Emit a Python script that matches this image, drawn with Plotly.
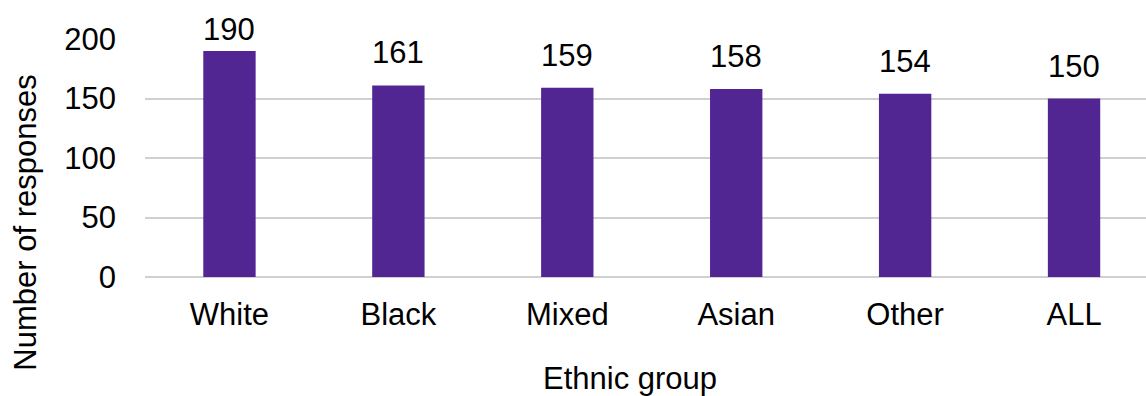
import plotly.graph_objects as go

# Responses per ethnic group
groups = ["White", "Black", "Mixed", "Asian", "Other", "ALL"]
responses = [190, 161, 159, 158, 154, 150]
y_ticks = [0, 50, 100, 150, 200]

BAR_COLOR = "#512693"
FONT = "Liberation Sans, Arial, sans-serif"
FS = 31

fig = go.Figure(
    go.Bar(
        x=groups,
        y=responses,
        marker=dict(color=BAR_COLOR, line=dict(width=0)),
        width=0.31,
        hoverinfo="x+y",
    )
)

# value labels above the bars; the tallest one sits closer to its bar
annotations = []
for g, v in zip(groups, responses):
    annotations.append(
        dict(
            x=g, y=v, xref="x", yref="y",
            text=str(v), showarrow=False,
            yanchor="bottom", yshift=13 if v < 180 else 2,
            font=dict(family=FONT, size=FS, color="#000000"),
        )
    )

# axis titles
annotations.append(
    dict(
        x=-0.1203, y=0.2267, xref="paper", yref="paper",
        text="Number of responses", textangle=-90, showarrow=False,
        xanchor="center", yanchor="middle",
        font=dict(family=FONT, size=FS, color="#000000"),
    )
)
annotations.append(
    dict(
        x=0.4843, y=-0.428, xref="paper", yref="paper",
        text="Ethnic group", showarrow=False,
        xanchor="center", yanchor="middle",
        font=dict(family=FONT, size=FS, color="#000000"),
    )
)

fig.update_layout(
    width=1146,
    height=396,
    margin=dict(l=144.5, r=0, t=38.8, b=119),
    paper_bgcolor="white",
    plot_bgcolor="white",
    showlegend=False,
    font=dict(family=FONT, size=FS, color="#000000"),
    annotations=annotations,
    xaxis=dict(
        range=[-0.5, 5.426],
        showgrid=False,
        showline=False,
        ticks="",
        ticklabelstandoff=16,
        tickfont=dict(family=FONT, size=FS, color="#000000"),
    ),
    yaxis=dict(
        range=[0, 200],
        tickvals=y_ticks,
        showgrid=True,
        gridcolor="#d0d0d0",
        gridwidth=1.8,
        zeroline=True,
        zerolinecolor="#d0d0d0",
        zerolinewidth=1.8,
        showline=False,
        ticks="",
        ticklabelstandoff=28,
        tickfont=dict(family=FONT, size=FS, color="#000000"),
    ),
)

fig.write_html("out.html")
